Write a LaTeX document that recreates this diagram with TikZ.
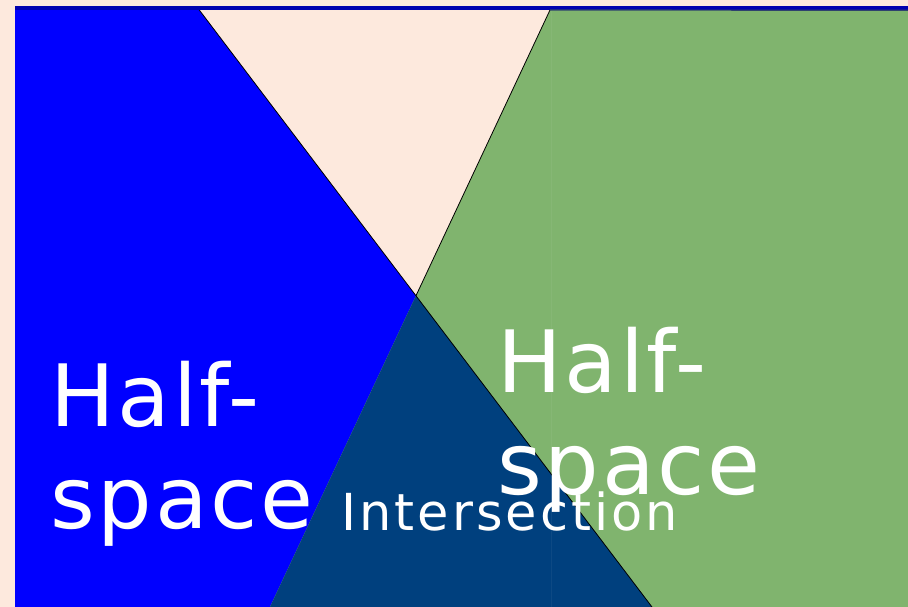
\documentclass[tikz,border=0pt]{standalone}
\usepackage{fontspec}
\setmainfont{DejaVu Sans}
\newfontfamily\bigfont[LetterSpace=3.2]{DejaVu Sans}
\newfontfamily\interfont[LetterSpace=6]{DejaVu Sans}
\definecolor{peach}{RGB}{253,233,221}
\definecolor{hsblue}{RGB}{0,0,255}
\definecolor{hsgreen}{RGB}{128,180,110}
\definecolor{hsnavy}{RGB}{0,64,126}
\definecolor{topline}{RGB}{0,0,175}
\tikzset{
  bigtext/.style={text=white, inner sep=0pt, align=left, font=\bigfont\fontsize{86}{102}\selectfont},
  midtext/.style={text=white, inner sep=0pt, font=\interfont\fontsize{51}{60}\selectfont},
  edge/.style={draw=black, line width=0.8pt},
}
\begin{document}
\begin{tikzpicture}[x=1pt,y=-1pt]
\fill[peach] (0,0) rectangle (908,607);
\useasboundingbox (0,0) rectangle (908,607);
\coordinate (bt) at (197,7);
\coordinate (bb) at (652,607);
\coordinate (gt) at (550,10);
\coordinate (gb) at (270,607);
\coordinate (x) at (intersection of bt--bb and gt--gb);
% blue half-space
\fill[hsblue] (15,7) -- (bt) -- (bb) -- (15,607) -- cycle;
% green half-space
\fill[hsgreen] (gt) -- (908,10) -- (908,607) -- (gb) -- cycle;
% intersection
\fill[hsnavy] (x) -- (bb) -- (gb) -- cycle;
% faint seam
\draw[white, opacity=0.05, line width=1pt] (551,11) -- (551,607);
% edges
\draw[edge] (bt) -- (bb);
\draw[edge] (gt) -- (x);
% top line
\draw[topline, line width=3.5pt] (15,8) -- (908,8);
\draw[black!40!hsgreen!60!topline, line width=1.2pt] (gt) -- (908,10.3);
% labels
\node[bigtext, anchor=north west] (left) at (50,361) {Half-\\space};
\node[bigtext, anchor=north west] (right) at (497,327) {Half-\\space};
\node[midtext, anchor=base west] (inter) at (341,530) {Intersection};
\end{tikzpicture}
\end{document}
